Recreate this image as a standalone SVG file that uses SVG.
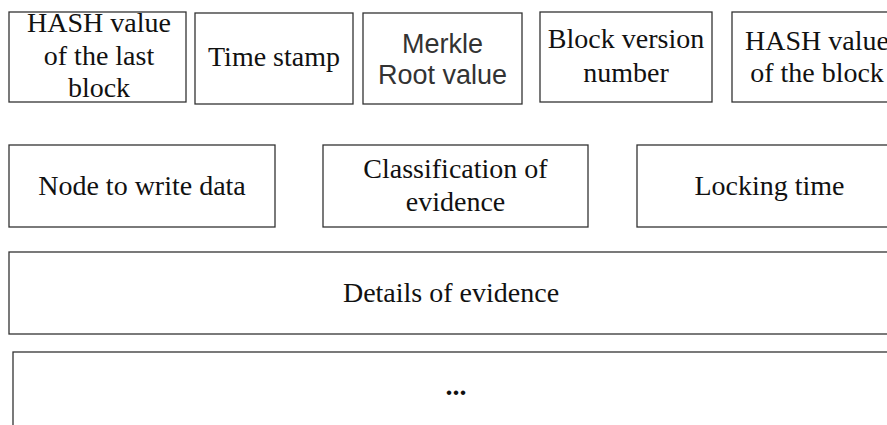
<svg xmlns="http://www.w3.org/2000/svg" width="887" height="425" viewBox="0 0 887 425">
<style>
.box{fill:#fff;stroke:#333;stroke-width:1.3}
.t{font-family:"Liberation Serif","Times New Roman",serif;font-size:28px;fill:#111;text-anchor:middle}
.s{font-family:"Liberation Sans",Arial,sans-serif;font-size:27px;fill:#333;text-anchor:middle}
</style>
<rect width="887" height="425" fill="#fff"/>
<g id="connectors"></g>
<g id="hash-last">
<rect class="box" x="9" y="12" width="177" height="90"/>
<text class="t" x="99" y="32">HASH value</text>
<text class="t" x="99" y="65">of the last</text>
<text class="t" x="99" y="97">block</text>
</g>
<g id="time-stamp">
<rect class="box" x="195" y="13" width="158" height="91"/>
<text class="t" x="274" y="66">Time stamp</text>
</g>
<g id="merkle">
<rect class="box" x="363" y="13" width="159" height="91"/>
<text class="s" x="442.5" y="53">Merkle</text>
<text class="s" x="442.5" y="84">Root value</text>
</g>
<g id="block-version">
<rect class="box" x="540" y="12" width="172" height="90"/>
<text class="t" x="626" y="48">Block version</text>
<text class="t" x="626" y="82">number</text>
</g>
<g id="hash-block">
<rect class="box" x="732" y="12" width="170" height="90"/>
<text class="t" x="817" y="50">HASH value</text>
<text class="t" x="817" y="82">of the block</text>
</g>
<g id="node-write">
<rect class="box" x="9" y="145" width="266" height="82"/>
<text class="t" x="142" y="195">Node to write data</text>
</g>
<g id="classification">
<rect class="box" x="323" y="145" width="265" height="82"/>
<text class="t" x="455.5" y="178">Classification of</text>
<text class="t" x="455.5" y="211">evidence</text>
</g>
<g id="locking">
<rect class="box" x="637" y="145" width="265" height="82"/>
<text class="t" x="769.5" y="195">Locking time</text>
</g>
<g id="details">
<rect class="box" x="9" y="252" width="884" height="82"/>
<text class="t" x="451" y="302">Details of evidence</text>
</g>
<g id="more">
<rect class="box" x="13" y="352" width="886" height="90"/>
<text class="t" x="456" y="395" font-weight="bold">...</text>
</g>
</svg>
